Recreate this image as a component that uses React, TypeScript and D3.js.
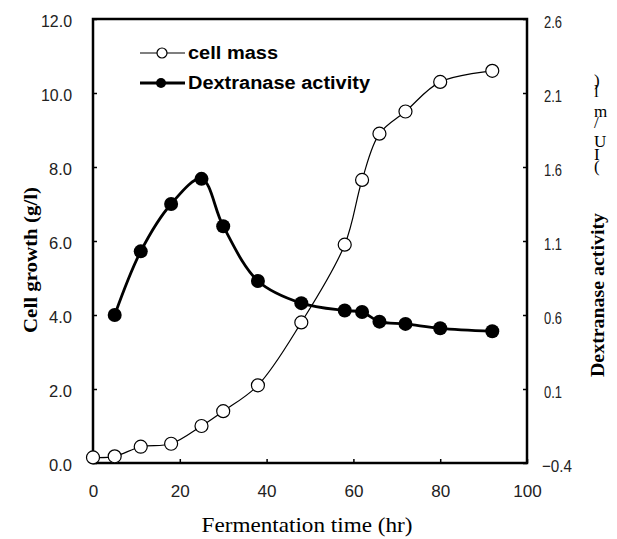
import React, { useEffect, useRef } from "react";
import * as d3 from "d3";

// fermentation data
const massHours = [0, 5, 11, 18, 25, 30, 38, 48, 58, 62, 66, 72, 80, 92];
const cellMass = [0.15, 0.18, 0.44, 0.52, 1.0, 1.4, 2.1, 3.8, 5.9, 7.65, 8.9, 9.5, 10.3, 10.6];
const dexHours = [5, 11, 18, 25, 30, 38, 48, 58, 62, 66, 72, 80, 92];
const dexActivity = [0.6, 1.03, 1.35, 1.52, 1.2, 0.83, 0.68, 0.63, 0.62, 0.555, 0.54, 0.51, 0.49];

const xTicks = [0, 20, 40, 60, 80, 100];
const leftTicks = [0, 2, 4, 6, 8, 10, 12];
const rightTicks = [-0.4, 0.1, 0.6, 1.1, 1.6, 2.1, 2.6];

const W = 617;
const H = 539;
const tickFont = "'Liberation Sans', Arial, sans-serif";

const App = () => {
  const ref = useRef<SVGSVGElement>(null);

  useEffect(() => {
    const svg = d3.select(ref.current);
    svg.selectAll("*").remove();

    const left = 93, right = 527, top = 19, bottom = 463;
    const x = d3.scaleLinear().domain([0, 100]).range([left, right]);
    const yL = d3.scaleLinear().domain([0, 12]).range([bottom, top]);
    const yR = d3.scaleLinear().domain([-0.4, 2.6]).range([bottom, top]);

    // frame
    svg.append("rect")
      .attr("x", left).attr("y", top)
      .attr("width", right - left).attr("height", bottom - top)
      .attr("fill", "none").attr("stroke", "#000").attr("stroke-width", 2.5);

    // bottom axis
    const gx = svg.append("g").attr("transform", `translate(0,${bottom})`)
      .call(d3.axisBottom(x).tickValues(xTicks).tickSizeInner(-4).tickSizeOuter(0).tickPadding(22)
        .tickFormat(d => String(d)));
    // left axis
    const gl = svg.append("g").attr("transform", `translate(${left},0)`)
      .call(d3.axisLeft(yL).tickValues(leftTicks).tickSizeInner(-4).tickSizeOuter(0).tickPadding(21)
        .tickFormat(d => (d as number).toFixed(1)));
    // right axis
    const gr = svg.append("g").attr("transform", `translate(${right},0)`)
      .call(d3.axisRight(yR).tickValues(rightTicks).tickSizeInner(-4).tickSizeOuter(0).tickPadding(17)
        .tickFormat(d => (d as number) < 0 ? "\u2212" + Math.abs(d as number).toFixed(1) : (d as number).toFixed(1)));

    [gx, gl, gr].forEach(g => {
      g.select(".domain").remove();
      g.selectAll(".tick line").attr("stroke", "#000").attr("stroke-width", 1.5);
      g.selectAll(".tick text")
        .attr("font-family", tickFont)
        .attr("font-size", 17)
        .attr("fill", "#222")
        .attr("lengthAdjust", "spacingAndGlyphs");
    });
    // narrow, tall digits as in the print
    gx.selectAll<SVGTextElement, number>(".tick text").attr("textLength", function () {
      return (this.textContent || "").length * 9.5;
    });
    gl.selectAll<SVGTextElement, number>(".tick text").attr("dy", "0.42em").attr("textLength", function () {
      return (this.textContent || "").length === 4 ? 31 : 23;
    });
    gr.selectAll<SVGTextElement, number>(".tick text").attr("dy", "0.5em").attr("textLength", function () {
      return (this.textContent || "").length === 4 ? 30 : 18;
    });
    gr.selectAll<SVGTextElement, number>(".tick text").filter(d => d < 0).attr("x", 15);

    // axis titles
    svg.append("text")
      .attr("x", 307).attr("y", 532)
      .attr("text-anchor", "middle")
      .attr("font-family", "'Liberation Serif', serif")
      .attr("font-size", 22)
      .attr("textLength", 211).attr("lengthAdjust", "spacingAndGlyphs")
      .text("Fermentation time (hr)");

    svg.append("text")
      .attr("transform", "translate(37,260) rotate(-90)")
      .attr("text-anchor", "middle")
      .attr("font-family", "'Liberation Serif', serif")
      .attr("font-weight", "bold")
      .attr("font-size", 18)
      .attr("textLength", 146).attr("lengthAdjust", "spacingAndGlyphs")
      .text("Cell growth (g/l)");

    svg.append("text")
      .attr("transform", "translate(604,295) rotate(-90)")
      .attr("text-anchor", "middle")
      .attr("font-family", "'Liberation Serif', serif")
      .attr("font-weight", "bold")
      .attr("font-size", 18)
      .attr("textLength", 164).attr("lengthAdjust", "spacingAndGlyphs")
      .text("Dextranase activity");

    // unit printed with upright glyphs stacked bottom-to-top
    svg.append("text")
      .attr("transform", "translate(594,172) rotate(-90)")
      .attr("rotate", "90")
      .attr("font-family", "'Liberation Serif', serif")
      .attr("font-size", 17)
      .attr("textLength", 92).attr("lengthAdjust", "spacing")
      .text("(IU/ml)");

    // cell mass line
    const massPts = massHours.map((h, i) => [h, cellMass[i]] as [number, number]);
    svg.append("path")
      .attr("d", d3.line<[number, number]>().x(d => x(d[0])).y(d => yL(d[1])).curve(d3.curveCatmullRom)(massPts))
      .attr("fill", "none").attr("stroke", "#000").attr("stroke-width", 1.2);

    // dextranase line
    const dexPts = dexHours.map((h, i) => [h, dexActivity[i]] as [number, number]);
    svg.append("path")
      .attr("d", d3.line<[number, number]>().x(d => x(d[0])).y(d => yR(d[1])).curve(d3.curveCatmullRom)(dexPts))
      .attr("fill", "none").attr("stroke", "#000").attr("stroke-width", 2.8);

    svg.append("g").selectAll("circle")
      .data(dexPts).enter().append("circle")
      .attr("cx", d => x(d[0])).attr("cy", d => yR(d[1]))
      .attr("r", 7).attr("fill", "#000");

    svg.append("g").selectAll("circle")
      .data(massPts).enter().append("circle")
      .attr("cx", d => x(d[0])).attr("cy", d => yL(d[1]))
      .attr("r", 6.5).attr("fill", "#fff").attr("stroke", "#000").attr("stroke-width", 1.2);

    // legend
    const lg = svg.append("g");
    lg.append("line").attr("x1", 140).attr("x2", 185).attr("y1", 53).attr("y2", 53)
      .attr("stroke", "#000").attr("stroke-width", 1.2);
    lg.append("circle").attr("cx", 162).attr("cy", 53).attr("r", 5)
      .attr("fill", "#fff").attr("stroke", "#000").attr("stroke-width", 1.2);
    lg.append("text").attr("x", 188).attr("y", 59)
      .attr("font-family", "'Liberation Sans', Arial, sans-serif")
      .attr("font-weight", "bold").attr("font-size", 18)
      .attr("textLength", 90).attr("lengthAdjust", "spacingAndGlyphs")
      .text("cell mass");
    lg.append("line").attr("x1", 140).attr("x2", 185).attr("y1", 83).attr("y2", 83)
      .attr("stroke", "#000").attr("stroke-width", 2.8);
    lg.append("circle").attr("cx", 161).attr("cy", 83).attr("r", 5).attr("fill", "#000");
    lg.append("text").attr("x", 188).attr("y", 89)
      .attr("font-family", "'Liberation Sans', Arial, sans-serif")
      .attr("font-weight", "bold").attr("font-size", 18)
      .attr("textLength", 182).attr("lengthAdjust", "spacingAndGlyphs")
      .text("Dextranase activity");
  }, []);

  return (
    <svg ref={ref} width={W} height={H}
      style={{ position: "absolute", left: 0, top: 0, background: "#fff" }} />
  );
};

export default App;
